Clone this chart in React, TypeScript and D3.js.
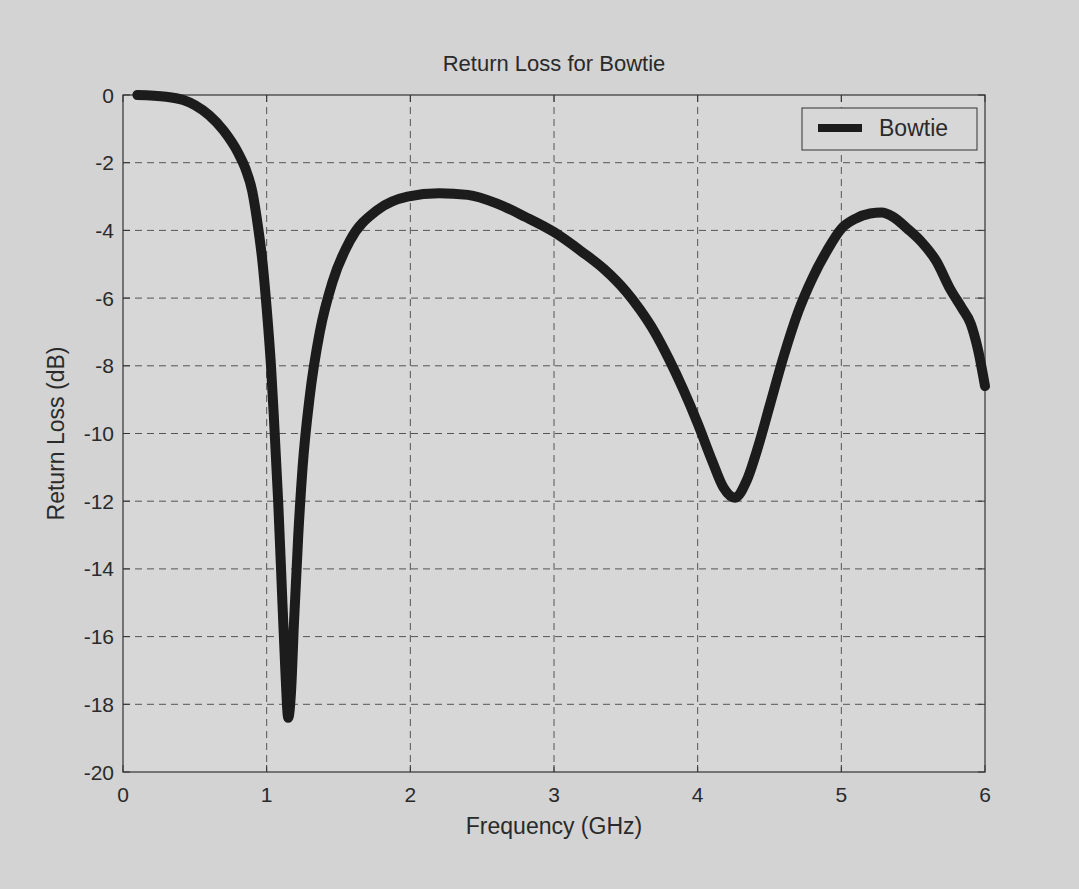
import React from "react";
import * as d3 from "d3";

const freq = [0.10,0.30,0.42,0.50,0.60,0.70,0.80,0.85,0.90,0.94,0.97,1.00,1.03,1.05,1.08,1.10,1.13,1.15,1.17,1.19,1.22,1.25,1.30,1.37,1.46,1.58,1.77,1.98,2.20,2.40,2.60,2.80,3.00,3.20,3.35,3.50,3.60,3.70,3.80,3.90,4.00,4.10,4.18,4.26,4.34,4.42,4.50,4.60,4.70,4.80,4.90,5.00,5.10,5.20,5.28,5.36,5.46,5.56,5.66,5.76,5.84,5.90,5.95,6.00];
const returnLoss = [0.00,-0.05,-0.15,-0.30,-0.60,-1.05,-1.70,-2.15,-2.85,-3.90,-4.90,-6.30,-8.00,-9.50,-12.0,-14.0,-17.0,-18.4,-17.6,-15.6,-13.0,-11.0,-8.90,-7.00,-5.50,-4.30,-3.40,-3.00,-2.90,-2.95,-3.20,-3.60,-4.05,-4.65,-5.15,-5.80,-6.35,-7.00,-7.80,-8.70,-9.70,-10.8,-11.6,-11.9,-11.4,-10.4,-9.20,-7.70,-6.40,-5.40,-4.60,-3.95,-3.65,-3.50,-3.47,-3.60,-3.95,-4.35,-4.90,-5.75,-6.30,-6.75,-7.50,-8.60];
const xTicks = [0,1,2,3,4,5,6];
const yTicks = [0,-2,-4,-6,-8,-10,-12,-14,-16,-18,-20];
const title = "Return Loss for Bowtie";
const xLabel = "Frequency (GHz)";
const yLabel = "Return Loss (dB)";
const seriesName = "Bowtie";

export default function App() {
  const W = 1079, H = 889;
  const L = 123, R = 985, T = 95, B = 772;
  const x = d3.scaleLinear().domain([0, 6]).range([L, R]);
  const y = d3.scaleLinear().domain([-20, 0]).range([B, T]);
  const pts = freq.map((f, i) => [f, returnLoss[i]] as [number, number]);
  const line = d3.line<[number, number]>()
    .x(d => x(d[0]))
    .y(d => y(d[1]))
    .curve(d3.curveMonotoneX);
  const font = "'Liberation Sans', Arial, Helvetica, sans-serif";
  const txt = "#2a2a2a";
  return (
    <svg width={W} height={H} style={{ position: "absolute", left: 0, top: 0, display: "block" }} fontFamily={font}>
      <rect x={0} y={0} width={W} height={H} fill="#d3d3d3" />
      <rect x={L} y={T} width={R - L} height={B - T} fill="#d7d7d7" />
      {xTicks.slice(1, -1).map(t => (
        <line key={"gx" + t} x1={x(t)} x2={x(t)} y1={T} y2={B} stroke="#555" strokeWidth={1} strokeDasharray="7,5" />
      ))}
      {yTicks.slice(1, -1).map(t => (
        <line key={"gy" + t} x1={L} x2={R} y1={y(t)} y2={y(t)} stroke="#555" strokeWidth={1} strokeDasharray="7,5" />
      ))}
      {xTicks.map(t => (
        <g key={"tx" + t}>
          <line x1={x(t)} x2={x(t)} y1={B} y2={B - 7} stroke="#333" />
          <line x1={x(t)} x2={x(t)} y1={T} y2={T + 7} stroke="#333" />
          <text x={x(t)} y={794} dy="0.36em" textAnchor="middle" fontSize={21} fill={txt}>{t}</text>
        </g>
      ))}
      {yTicks.map(t => (
        <g key={"ty" + t}>
          <line x1={L} x2={L + 7} y1={y(t)} y2={y(t)} stroke="#333" />
          <line x1={R} x2={R - 7} y1={y(t)} y2={y(t)} stroke="#333" />
          <text x={L - 9} y={y(t)} dy="0.36em" textAnchor="end" fontSize={21} fill={txt}>{t}</text>
        </g>
      ))}
      <rect x={L} y={T} width={R - L} height={B - T} fill="none" stroke="#333" strokeWidth={1.2} />
      <path d={line(pts) || ""} fill="none" stroke="#1c1c1c" strokeWidth={10} strokeLinecap="round" strokeLinejoin="round" />
      <g>
        <rect x={802} y={108} width={175} height={42} fill="#d7d7d7" stroke="#333" strokeWidth={1} />
        <line x1={818} x2={862} y1={128} y2={128} stroke="#1c1c1c" strokeWidth={8} />
        <text x={879} y={128} dy="0.36em" fontSize={23} fill={txt}>{seriesName}</text>
      </g>
      <text x={(L + R) / 2} y={63} dy="0.36em" textAnchor="middle" fontSize={22} fill={txt}>{title}</text>
      <text x={(L + R) / 2} y={826} dy="0.36em" textAnchor="middle" fontSize={23} fill={txt}>{xLabel}</text>
      <text transform={`translate(56,${(T + B) / 2}) rotate(-90)`} dy="0.36em" textAnchor="middle" fontSize={23} fill={txt}>{yLabel}</text>
    </svg>
  );
}
